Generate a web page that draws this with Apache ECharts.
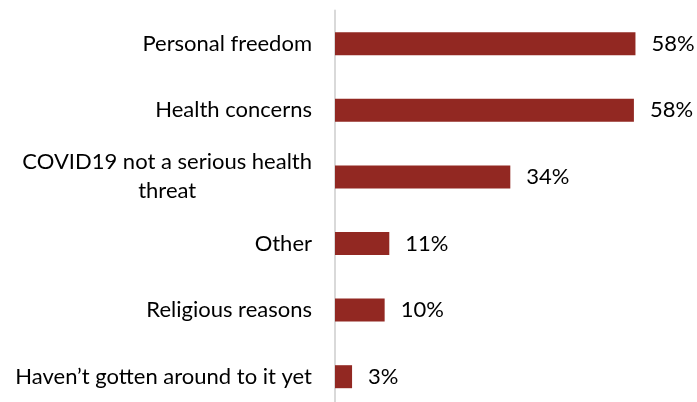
<!DOCTYPE html>
<html>
<head>
<meta charset="utf-8">
<script src="https://cdn.jsdelivr.net/npm/echarts@6/dist/echarts.min.js"></script>
<style>
html,body{margin:0;padding:0;background:#fff;overflow:hidden;}
#chart{width:697px;height:411px;}
</style>
</head>
<body>
<div id="chart"></div>
<script>
// Data (top to bottom)
var categories = [
  "Personal freedom",
  "Health concerns",
  "COVID19 not a serious health\nthreat",
  "Other",
  "Religious reasons",
  "Haven\u2019t gotten around to it yet"
];
var values = [58.1, 57.8, 33.9, 10.5, 9.6, 3.3];
var valueLabels = ["58%", "58%", "34%", "11%", "10%", "3%"];

var FONT = "Lato";
var FS = 22;

function textWidth(t) {
  var c = document.createElement("canvas").getContext("2d");
  c.font = FS + "px " + FONT;
  return c.measureText(t).width;
}

var chart = echarts.init(document.getElementById("chart"), null, {renderer: "canvas"});

var rev = function (a) { return a.slice().reverse(); };

var option = {
  animation: false,
  grid: {left: 335, right: 0, top: 10.4, bottom: 1, containLabel: false},
  xAxis: {
    type: "value", min: 0, max: 70, show: false
  },
  yAxis: {
    type: "category",
    data: rev(categories),
    axisLine: {show: true, lineStyle: {color: "#d9d9d9", width: 2}},
    axisTick: {show: false},
    splitLine: {show: false},
    axisLabel: {
      margin: 23,
      color: "#000",
      fontFamily: FONT,
      fontSize: FS,
      lineHeight: 29,
      formatter: function (v) {
        if (v.indexOf("\n") >= 0) {
          return v.split("\n").map(function (l) { return "{c|" + l + "}"; }).join("\n");
        }
        return v;
      },
      rich: {
        c: {
          width: textWidth("COVID19 not a serious health"),
          align: "center",
          fontFamily: FONT,
          fontSize: FS,
          lineHeight: 29,
          color: "#000"
        }
      }
    }
  },
  series: [{
    type: "bar",
    data: rev(values),
    barWidth: 23,
    itemStyle: {color: "#922822"},
    label: {
      show: true,
      position: "right",
      distance: 16,
      color: "#000",
      fontFamily: FONT,
      fontSize: FS,
      formatter: function (p) { return rev(valueLabels)[p.dataIndex]; }
    }
  }]
};
chart.setOption(option);
</script>
</body>
</html>
